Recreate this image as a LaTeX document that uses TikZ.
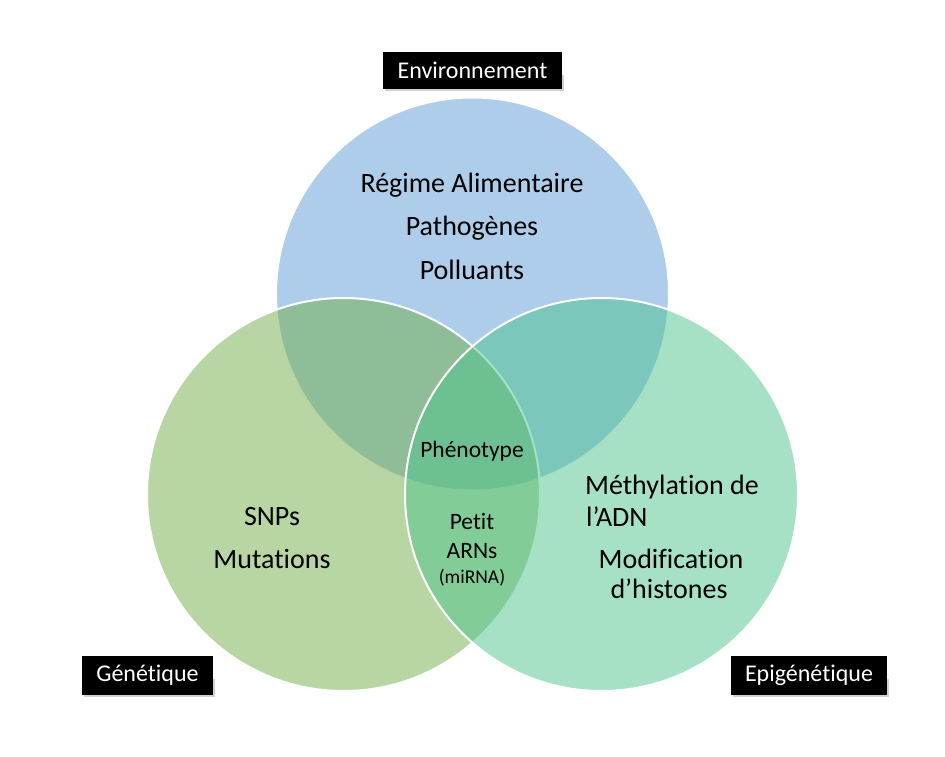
\documentclass[tikz,border=0pt]{standalone}
\usepackage{fontspec}
\setmainfont[Ligatures={NoCommon,NoContextual,NoRare},Contextuals={NoAlternate}]{Carlito}
\begin{document}
\begin{tikzpicture}[x=1pt,y=-1pt,
  circ/.style={draw=white,line width=2pt,fill opacity=0.5},
  lbl/.style={fill=black,text=white,font=\fontsize{24}{28}\selectfont,inner sep=0pt,minimum height=37pt},
  shad/.style={fill=gray!35},
  big/.style={font=\fontsize{28}{32}\selectfont,text=black},
  mid/.style={font=\fontsize{23.5}{27}\selectfont,text=black}]
\useasboundingbox (0,0) rectangle (945,756);
\definecolor{cblue}{RGB}{91,155,213}
\definecolor{cgreen}{RGB}{112,173,71}
\definecolor{cteal}{RGB}{77,195,141}
\path[circ,fill=cblue] (472.5,294) circle (196.5);
\path[circ,fill=cgreen] (343.5,494.5) circle (196.5);
\path[circ,fill=cteal] (601.5,494.5) circle (196.5);
\path[shad] (385,75) rectangle (564,91);
\path[shad] (84,679) rectangle (215,697);
\path[shad] (733,679) rectangle (889,697);
\node[lbl,minimum width=179pt] (env) at (472.5,70.5) {Environnement};
\node[lbl,minimum width=131pt,minimum height=39pt] (gen) at (147.5,675.5) {Génétique};
\node[lbl,minimum width=156pt,minimum height=39pt] (epi) at (809,675.5) {Epigénétique};
\node[big] (t1) at (472,185) {Régime Alimentaire};
\node[big] (t2) at (472,228) {Pathogènes};
\node[big] (t3) at (472,270) {Polluants};
\node[big] (g1) at (272,517) {SNPs};
\node[big] (g2) at (272,559) {Mutations};
\node[big] (e1) at (672,487) {Méthylation de};
\node[big,anchor=west,inner sep=0pt] (e2) at (586,517) {l’ADN};
\node[big] (e3) at (671,559) {Modification};
\node[big] (e4) at (669,589) {d’histones};
\node[mid] (p1) at (472,451) {Phénotype};
\node[mid] (p2) at (472,521) {Petit};
\node[mid] (p3) at (472,551) {ARNs};
\node[font=\fontsize{19.5}{23}\selectfont] (p4) at (472,578) {(miRNA)};
\end{tikzpicture}
\end{document}
